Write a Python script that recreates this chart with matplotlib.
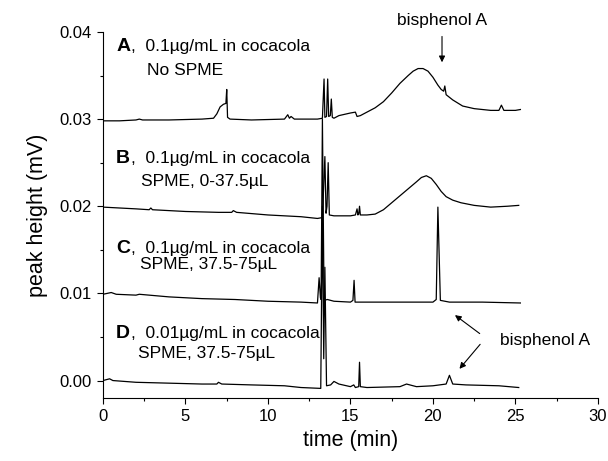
import matplotlib
matplotlib.use('Agg')
import matplotlib.pyplot as plt
from matplotlib.ticker import MultipleLocator

plt.rcParams['font.family'] = ['Liberation Sans', 'DejaVu Sans']

# 色谱图数据 (time in min, peak height in mV), 从图上读出来的
a_t = [0.0, 1.0, 2.0, 2.2, 2.4, 4.0, 6.0, 6.7, 6.9, 7.1, 7.3, 7.45, 7.5, 7.55, 7.7,
       9.0, 11.0, 11.2, 11.3, 11.4, 11.6, 13.0, 13.3, 13.4, 13.45, 13.55, 13.62,
       13.68, 13.78, 13.84, 13.9, 14.0, 14.3, 15.0, 15.3, 15.4, 15.6, 16.0, 16.5,
       17.0, 17.5, 18.0, 18.5, 18.8, 19.1, 19.4, 19.7, 20.0, 20.3, 20.5, 20.65,
       20.72, 20.8, 21.2, 21.8, 22.5, 23.5, 24.0, 24.15, 24.3, 25.0, 25.3]
a_y = [0.0298, 0.0298, 0.0299, 0.0300, 0.0299, 0.0299, 0.0300, 0.0301, 0.0306,
       0.0314, 0.0317, 0.0318, 0.0334, 0.0302, 0.0300, 0.0299, 0.0300, 0.0305,
       0.0301, 0.0303, 0.0300, 0.0300, 0.0301, 0.0346, 0.0302, 0.0303, 0.0346,
       0.0303, 0.0304, 0.0323, 0.0302, 0.0301, 0.0304, 0.0307, 0.0308, 0.0303,
       0.0304, 0.0308, 0.0313, 0.0320, 0.0330, 0.0341, 0.0350, 0.0355, 0.0358,
       0.0358, 0.0355, 0.0348, 0.0339, 0.0334, 0.0332, 0.0338, 0.0328, 0.0322,
       0.0315, 0.0312, 0.0310, 0.0310, 0.0316, 0.0310, 0.0310, 0.0311]

b_t = [0.0, 1.0, 2.0, 2.8, 2.9, 3.0, 5.0, 7.0, 7.8, 7.9, 8.1, 10.0, 12.0, 13.0,
       13.3, 13.45, 13.52, 13.58, 13.65, 13.72, 14.0, 15.0, 15.3, 15.4, 15.45,
       15.5, 15.55, 15.6, 16.0, 16.5, 17.0, 17.5, 18.0, 18.5, 19.0, 19.3, 19.6,
       19.9, 20.2, 20.5, 20.8, 21.2, 21.7, 22.5, 23.5, 24.5, 25.2]
b_y = [0.0199, 0.0198, 0.0197, 0.0196, 0.0198, 0.0196, 0.0194, 0.0193, 0.0193,
       0.0195, 0.0193, 0.0190, 0.0188, 0.0186, 0.0187, 0.0257, 0.0192, 0.0200,
       0.0250, 0.0190, 0.0189, 0.0189, 0.0190, 0.0197, 0.0190, 0.0191, 0.0200,
       0.0190, 0.0190, 0.0191, 0.0196, 0.0204, 0.0212, 0.0220, 0.0228, 0.0233,
       0.0235, 0.0232, 0.0225, 0.0217, 0.0211, 0.0207, 0.0204, 0.0201, 0.0199,
       0.0200, 0.0201]

c_t = [0.0, 0.5, 0.8, 2.0, 2.2, 4.0, 6.0, 8.0, 10.0, 12.0, 13.0, 13.1, 13.18,
       13.22, 13.3, 13.4, 13.6, 14.0, 15.0, 15.15, 15.22, 15.28, 16.0, 18.0,
       20.0, 20.2, 20.3, 20.45, 21.0, 23.0, 25.3]
c_y = [0.0099, 0.0101, 0.0099, 0.0098, 0.0099, 0.0096, 0.0094, 0.0093, 0.0091,
       0.0090, 0.0089, 0.0118, 0.0095, 0.0093, 0.0300, 0.0092, 0.0093, 0.0091,
       0.0090, 0.0092, 0.0115, 0.0090, 0.0090, 0.0090, 0.0090, 0.0093, 0.0199,
       0.0092, 0.0090, 0.0090, 0.0089]

d_t = [0.0, 0.4, 0.6, 2.0, 4.0, 6.0, 6.9, 7.0, 7.2, 9.0, 11.0, 12.0, 13.2, 13.3,
       13.38, 13.45, 13.55, 13.8, 14.0, 14.3, 15.0, 15.2, 15.3, 15.5, 15.55, 15.6,
       16.0, 18.0, 18.4, 18.6, 19.0, 20.0, 20.8, 21.0, 21.2, 22.0, 24.0, 25.2]
d_y = [0.0000, 0.0002, 0.0000, -0.0002, -0.0003, -0.0004, -0.0004, -0.0002,
       -0.0004, -0.0005, -0.0006, -0.0008, -0.0009, 0.0200, 0.0025, 0.0130,
       -0.0006, -0.0005, -0.0001, -0.0004, -0.0007, -0.0005, -0.0008, -0.0007,
       0.0021, -0.0007, -0.0008, -0.0007, -0.0004, -0.0005, -0.0007, -0.0006,
       -0.0004, 0.0006, -0.0004, -0.0005, -0.0006, -0.0008]

fig = plt.figure(figsize=(6.08, 4.61), dpi=100)
ax = fig.add_axes([0.1694, 0.1367, 0.814, 0.794])

for t, y in [(a_t, a_y), (b_t, b_y), (c_t, c_y), (d_t, d_y)]:
    ax.plot(t, y, color='black', lw=0.9)

ax.set_xlim(0, 30)
ax.set_ylim(-0.002, 0.04)
ax.spines['top'].set_visible(False)
ax.spines['right'].set_visible(False)
ax.xaxis.set_major_locator(MultipleLocator(5))
ax.xaxis.set_minor_locator(MultipleLocator(2.5))
ax.yaxis.set_major_locator(MultipleLocator(0.01))
ax.yaxis.set_minor_locator(MultipleLocator(0.005))
ax.tick_params(which='major', direction='out', length=4.5, width=0.8, labelsize=12)
ax.tick_params(which='minor', direction='out', length=2.5, width=0.8)
ax.yaxis.set_major_formatter(matplotlib.ticker.FormatStrFormatter('%.2f'))
ax.set_xlabel('time (min)', fontsize=15.5, labelpad=4)
ax.set_ylabel('peak height (mV)', fontsize=15.5, labelpad=8)

# 标签
labels = [('A', ',  0.1µg/mL in cocacola', 'No SPME', 0.0383, 0.0356, 2.67),
          ('B', ',  0.1µg/mL in cocacola', 'SPME, 0-37.5µL', 0.0255, 0.0228, 2.3),
          ('C', ',  0.1µg/mL in cocacola', 'SPME, 37.5-75µL', 0.0152, 0.0133, 2.24),
          ('D', ',  0.01µg/mL in cocacola', 'SPME, 37.5-75µL', 0.0054, 0.0031, 2.12)]
for let, l1, l2, y1, y2, x2 in labels:
    ax.text(0.8, y1, let, fontsize=14, fontweight='bold', va='center', ha='left')
    ax.text(1.72, y1, l1, fontsize=12.5, va='center', ha='left')
    ax.text(x2, y2, l2, fontsize=12.5, va='center', ha='left')

arrow = dict(arrowstyle='-|>', color='black', lw=0.8, mutation_scale=9)
ax.annotate('', xy=(20.55, 0.0362), xytext=(20.55, 0.0398), arrowprops=arrow,
            annotation_clip=False)
ax.text(20.55, 0.0413, 'bisphenol A', fontsize=12.5, ha='center', va='center',
        clip_on=False)
ax.annotate('', xy=(21.2, 0.0077), xytext=(22.97, 0.0052), arrowprops=arrow)
ax.annotate('', xy=(21.5, 0.0011), xytext=(22.97, 0.0044), arrowprops=arrow)
ax.text(24.05, 0.0046, 'bisphenol A', fontsize=12.5, ha='left', va='center')

fig.savefig('out.png', dpi=100)
